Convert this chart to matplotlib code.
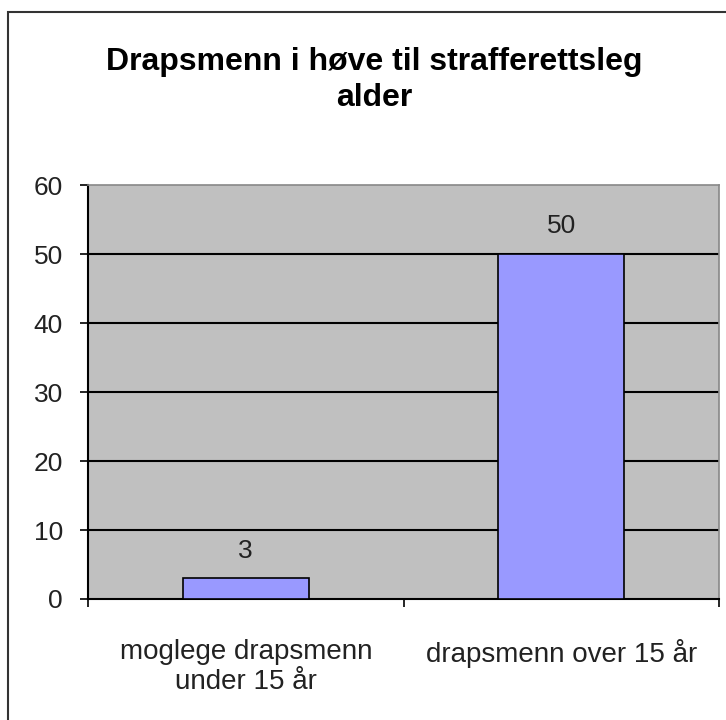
import matplotlib.pyplot as plt
from matplotlib.patches import Rectangle

plt.rcParams['font.family'] = ['Liberation Sans', 'DejaVu Sans']

title = "Drapsmenn i høve til strafferettsleg\nalder"
categories = ["moglege drapsmenn\nunder 15 år", "drapsmenn over 15 år"]
values = [3, 50]
yticks = [0, 10, 20, 30, 40, 50, 60]

fig = plt.figure(figsize=(7.26, 7.2), dpi=100)
ax = fig.add_axes([88/726, 1-599/720, (719-88)/726, (599-185)/720])

# outer chart border (cropped on the right/bottom)
fig.patches.append(Rectangle((8/726, -0.2), 1.2, 1.2 - 0.017, transform=fig.transFigure,
                             fill=False, edgecolor='#333333', lw=1.5))

ax.set_facecolor('#c0c0c0')
x = range(len(categories))
bars = ax.bar(x, values, width=0.4, color='#9999ff', edgecolor='black', lw=1.2, zorder=3)

for yv in yticks[1:-1]:
    ax.axhline(yv, color='black', lw=1.5, zorder=1)

for b, v in zip(bars, values):
    ax.annotate(str(v), (b.get_x() + b.get_width()/2, v), xytext=(0, 20),
                textcoords='offset points', ha='center', va='center',
                fontsize=19, color='#222222')

ax.set_xlim(-0.5, 1.5)
ax.set_ylim(0, 60)
ax.set_yticks(yticks)
ax.tick_params(axis='y', direction='out', length=6, width=1.2, pad=12,
               labelsize=19, labelcolor='#222222')
ax.set_xticks(list(x))
ax.set_xticklabels(categories, fontsize=20, color='#222222', linespacing=1.18)
ax.tick_params(axis='x', which='major', length=0, pad=29)
ax.set_xticks([-0.5, 0.5, 1.5], minor=True)
ax.tick_params(axis='x', which='minor', direction='out', length=6, width=1.2)

for s in ['top', 'right']:
    ax.spines[s].set_color('#888888')
    ax.spines[s].set_linewidth(1.2)
for s in ['left', 'bottom']:
    ax.spines[s].set_color('black')
    ax.spines[s].set_linewidth(1.5)

fig.text(374/726, 1-80/720, title, ha='center', va='center', fontsize=23,
         fontweight='bold', color='black', linespacing=1.25)

fig.savefig('out.png', dpi=100)
